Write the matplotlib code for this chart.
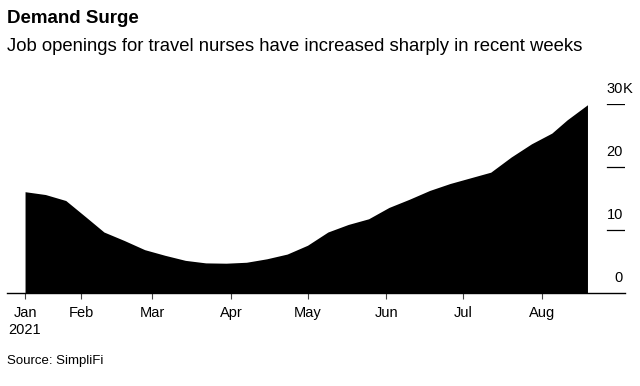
import matplotlib
matplotlib.use("Agg")
import matplotlib.pyplot as plt
import pandas as pd

# Job openings for travel nurses, thousands
dates = ["2021-01-10", "2021-01-18", "2021-01-26", "2021-02-03", "2021-02-10",
         "2021-02-18", "2021-02-26", "2021-03-06", "2021-03-14", "2021-03-22",
         "2021-03-30", "2021-04-07", "2021-04-15", "2021-04-23", "2021-05-01",
         "2021-05-09", "2021-05-17", "2021-05-25", "2021-06-02", "2021-06-10",
         "2021-06-18", "2021-06-26", "2021-07-04", "2021-07-12", "2021-07-20",
         "2021-07-28", "2021-08-05", "2021-08-11", "2021-08-19"]
openings = [16.0, 15.55, 14.6, 11.95, 9.6, 8.25, 6.8, 5.9, 5.1, 4.7,
            4.65, 4.8, 5.35, 6.1, 7.5, 9.6, 10.8, 11.7, 13.5, 14.8,
            16.2, 17.3, 18.2, 19.1, 21.5, 23.6, 25.3, 27.4, 29.8]

month_ticks = ["2021-01-10", "2021-02-01", "2021-03-01", "2021-04-01",
               "2021-05-01", "2021-06-01", "2021-07-01", "2021-08-01"]
month_labels = ["Jan\n2021", "Feb", "Mar", "Apr", "May", "Jun", "Jul", "Aug"]
y_ticks = [0, 10, 20, 30]
y_labels = ["0", "10", "20", "30"]

x = pd.to_datetime(dates)
plt.rcParams["font.family"] = ["Liberation Sans", "DejaVu Sans"]

W, H = 640, 386
fig = plt.figure(figsize=(6.4, 3.86), dpi=100)
fig.patch.set_facecolor("white")

# axes box in pixels: left 6.7, right 625, baseline y=292.5, 30K line at y=103.5
ax = fig.add_axes([6.7 / W, (H - 292.5) / H, (625 - 6.7) / W, 189 / H])
ax.fill_between(x, openings, 0, color="black", linewidth=0)

ax.set_xlim(pd.Timestamp("2021-01-02 19:00"), pd.Timestamp("2021-09-02 18:00"))
ax.set_ylim(0, 30)

for s in ["top", "right", "left"]:
    ax.spines[s].set_visible(False)
ax.spines["bottom"].set_color("#000000")
ax.spines["bottom"].set_linewidth(1.0)

ax.set_xticks(pd.to_datetime(month_ticks))
ax.set_xticklabels(month_labels, fontsize=10.5, color="#000000", linespacing=1.3)
ax.tick_params(axis="x", length=4, width=0.8, color="#444444", pad=5.5)
ax.set_yticks([])

# right-hand value labels with short rules (Bloomberg style)
tr = ax.get_yaxis_transform()
lab_x = (623 - 6.7) / 618.3
for v, lab in zip(y_ticks, y_labels):
    if v > 0:
        ax.axhline(v, xmin=(607 - 6.7) / 618.3, xmax=1.0, color="#000000", lw=0.9)
    ax.annotate(lab, xy=(lab_x, v), xycoords=tr,
                xytext=(0, 10.5), textcoords="offset points",
                ha="right", va="center", fontsize=10.5, annotation_clip=False)
    if v == 30:
        ax.annotate("K", xy=(lab_x, v), xycoords=tr,
                    xytext=(0, 10.5), textcoords="offset points",
                    ha="left", va="center", fontsize=10.5, annotation_clip=False)

fig.text(7 / W, 1 - 18.5 / H, "Demand Surge", fontsize=13.5, fontweight="bold",
         ha="left", va="center")
fig.text(7 / W, 1 - 46.5 / H,
         "Job openings for travel nurses have increased sharply in recent weeks",
         fontsize=13.3, ha="left", va="center")
fig.text(7 / W, 1 - 361 / H, "Source: SimpliFi", fontsize=9.5, ha="left",
         va="center")

fig.savefig("out.png", dpi=100, facecolor="white")
